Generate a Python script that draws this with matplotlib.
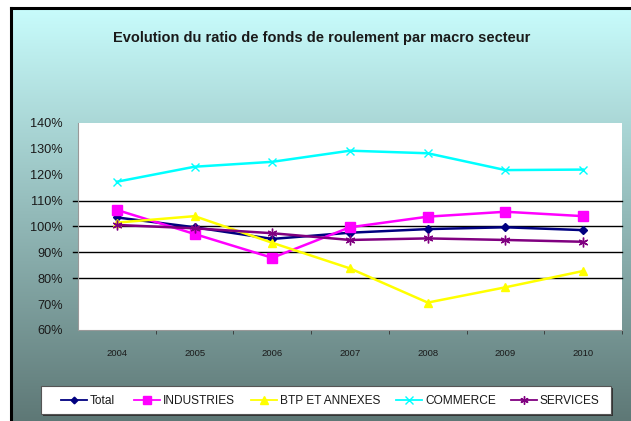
import numpy as np
import matplotlib
matplotlib.use("Agg")
import matplotlib.pyplot as plt
from matplotlib.patches import Rectangle

years = ["2004", "2005", "2006", "2007", "2008", "2009", "2010"]
total = [103.5, 99.7, 95.2, 97.6, 99.0, 99.7, 98.6]
industries = [106.4, 97.1, 87.9, 99.7, 103.8, 105.7, 104.0]
btp = [101.5, 104.0, 93.7, 83.8, 70.6, 76.5, 82.8]
commerce = [117.3, 123.1, 125.0, 129.3, 128.3, 121.8, 122.0]
services = [100.6, 99.3, 97.4, 94.8, 95.4, 94.8, 94.1]

series = [
    ("Total", total, "#000080", "D", 4),
    ("INDUSTRIES", industries, "#ff00ff", "s", 6.5),
    ("BTP ET ANNEXES", btp, "#ffff00", "^", 6),
    ("COMMERCE", commerce, "#00ffff", "x", 6),
    ("SERVICES", services, "#800080", (6, 2, 0), 7),
]
yticks = [60, 70, 80, 90, 100, 110, 120, 130, 140]
grid_vals = [80, 90, 100, 110]

FONT = ["Liberation Sans", "DejaVu Sans"]
plt.rcParams["font.family"] = FONT

W, H = 631, 421
fig = plt.figure(figsize=(W / 100, H / 100), dpi=100)
fig.patch.set_facecolor("white")

# background gradient panel
bg = fig.add_axes([0, 0, 1, 1])
bg.set_xlim(0, W)
bg.set_ylim(H, 0)
bg.axis("off")
top = np.array([200, 252, 252]) / 255
bot = np.array([94, 120, 118]) / 255
t = np.linspace(0, 1, 256)[:, None]
g = (top[None, :] * (1 - t) + bot[None, :] * t)[:, None, :]
bg.imshow(g, extent=[11, W, H, 8], aspect="auto", interpolation="bilinear", zorder=0)
bg.plot([11, 11], [H, 8], color="black", lw=2.2, zorder=2, solid_capstyle="projecting")
bg.plot([11, W], [8, 8], color="black", lw=2.2, zorder=2, solid_capstyle="projecting")

# title
bg.text(321.5, 38, "Evolution du ratio de fonds de roulement par macro secteur",
        ha="center", va="center", fontsize=10.5, fontweight="bold", color="#1a1a1a",
        zorder=3)

# plot axes
x0, x1, y0, y1 = 78, 622, 123, 330
ax = fig.add_axes([x0 / W, 1 - y1 / H, (x1 - x0) / W, (y1 - y0) / H])
ax.set_facecolor("white")
ax.set_xlim(-0.5, len(years) - 0.5)
ax.set_ylim(60, 140)

for gv in grid_vals:
    ax.plot([-0.56, len(years) - 0.5], [gv, gv], color="black", lw=1.0,
            clip_on=False, zorder=1)

xs = np.arange(len(years))
for name, vals, col, mk, ms in series:
    ax.plot(xs, vals, label=name, color=col, lw=1.8, marker=mk, markersize=ms,
            markeredgewidth=1.0, zorder=3)

ax.set_yticks(yticks)
ax.set_yticklabels([f"{v}%" for v in yticks], fontsize=9.2, color="#1a1a1a")
ax.tick_params(axis="y", length=0, pad=11)
ax.set_xticks(xs)
ax.set_xticklabels(years, fontsize=6.8, color="#1a1a1a")
ax.tick_params(axis="x", length=0, pad=14)
ax.set_xticks(np.arange(len(years)) + 0.5, minor=True)
ax.tick_params(axis="x", which="minor", length=3, color="#333333", direction="out")
for s in ["top", "right"]:
    ax.spines[s].set_visible(False)
ax.spines["left"].set_color("#999999")
ax.spines["bottom"].set_color("#999999")

# legend box
lx0, lx1, ly0, ly1 = 41, 611, 386, 414
bg.add_patch(Rectangle((lx0 + 2, ly0 + 2), lx1 - lx0, ly1 - ly0, facecolor="#333333",
                       edgecolor="none", zorder=3))
bg.add_patch(Rectangle((lx0, ly0), lx1 - lx0, ly1 - ly0, facecolor="white",
                       edgecolor="#555555", lw=0.8, zorder=4))
entry_x = [61, 134, 251, 396, 511]
ly = (ly0 + ly1) / 2
for (name, vals, col, mk, ms), ex in zip(series, entry_x):
    bg.plot([ex, ex + 26], [ly, ly], color=col, lw=1.3, zorder=5)
    bg.plot([ex + 13], [ly], marker=mk, color=col, markersize=ms * 0.85,
            markeredgewidth=1.0, zorder=5)
    bg.text(ex + 29, ly + 0.5, name, ha="left", va="center", fontsize=8.6,
            color="#1a1a1a", zorder=5)

fig.savefig("out.png", dpi=100)
